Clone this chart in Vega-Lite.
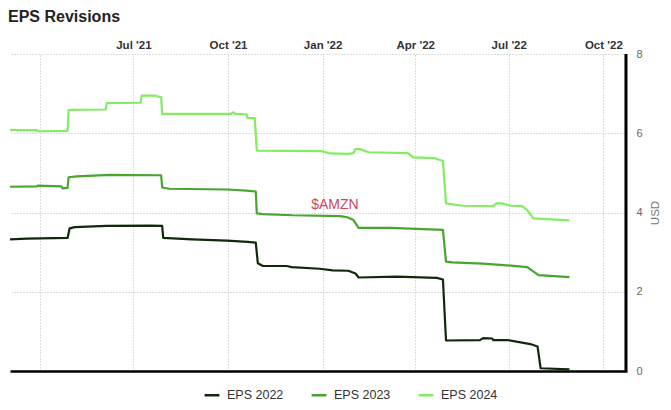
{
  "$schema": "https://vega.github.io/schema/vega-lite/v6.json",
  "width": 617,
  "height": 317,
  "autosize": {"type": "none"},
  "padding": {"left": 10, "top": 54, "right": 44, "bottom": 39},
  "title": {"text": "EPS Revisions", "anchor": "start", "frame": "group", "dx": -2, "offset": 14, "fontSize": 16, "fontWeight": "bold", "color": "#222222", "font": "Liberation Sans"},
  "config": {
    "view": {"stroke": null},
    "font": "Liberation Sans",
    "axis": {"gridColor": "#bbbbbb", "gridDash": [1, 2], "gridWidth": 1, "ticks": false}
  },
  "data": {"values": [
    {"date": "2021-03-03", "eps": 6.08, "series": "EPS 2024"},
    {"date": "2021-03-28", "eps": 6.08, "series": "EPS 2024"},
    {"date": "2021-04-01", "eps": 6.05, "series": "EPS 2024"},
    {"date": "2021-04-28", "eps": 6.06, "series": "EPS 2024"},
    {"date": "2021-04-29", "eps": 6.59, "series": "EPS 2024"},
    {"date": "2021-06-04", "eps": 6.60, "series": "EPS 2024"},
    {"date": "2021-06-05", "eps": 6.76, "series": "EPS 2024"},
    {"date": "2021-07-08", "eps": 6.77, "series": "EPS 2024"},
    {"date": "2021-07-09", "eps": 6.95, "series": "EPS 2024"},
    {"date": "2021-07-22", "eps": 6.95, "series": "EPS 2024"},
    {"date": "2021-07-28", "eps": 6.91, "series": "EPS 2024"},
    {"date": "2021-07-29", "eps": 6.49, "series": "EPS 2024"},
    {"date": "2021-10-04", "eps": 6.49, "series": "EPS 2024"},
    {"date": "2021-10-06", "eps": 6.53, "series": "EPS 2024"},
    {"date": "2021-10-08", "eps": 6.49, "series": "EPS 2024"},
    {"date": "2021-10-19", "eps": 6.48, "series": "EPS 2024"},
    {"date": "2021-10-20", "eps": 6.38, "series": "EPS 2024"},
    {"date": "2021-10-27", "eps": 6.38, "series": "EPS 2024"},
    {"date": "2021-10-29", "eps": 5.56, "series": "EPS 2024"},
    {"date": "2021-12-31", "eps": 5.55, "series": "EPS 2024"},
    {"date": "2022-01-08", "eps": 5.49, "series": "EPS 2024"},
    {"date": "2022-01-25", "eps": 5.48, "series": "EPS 2024"},
    {"date": "2022-01-31", "eps": 5.50, "series": "EPS 2024"},
    {"date": "2022-02-02", "eps": 5.60, "series": "EPS 2024"},
    {"date": "2022-02-06", "eps": 5.60, "series": "EPS 2024"},
    {"date": "2022-02-15", "eps": 5.52, "series": "EPS 2024"},
    {"date": "2022-03-25", "eps": 5.50, "series": "EPS 2024"},
    {"date": "2022-03-30", "eps": 5.39, "series": "EPS 2024"},
    {"date": "2022-04-20", "eps": 5.37, "series": "EPS 2024"},
    {"date": "2022-04-28", "eps": 5.30, "series": "EPS 2024"},
    {"date": "2022-05-01", "eps": 4.23, "series": "EPS 2024"},
    {"date": "2022-05-17", "eps": 4.17, "series": "EPS 2024"},
    {"date": "2022-06-16", "eps": 4.16, "series": "EPS 2024"},
    {"date": "2022-06-19", "eps": 4.23, "series": "EPS 2024"},
    {"date": "2022-06-24", "eps": 4.23, "series": "EPS 2024"},
    {"date": "2022-07-03", "eps": 4.17, "series": "EPS 2024"},
    {"date": "2022-07-14", "eps": 4.16, "series": "EPS 2024"},
    {"date": "2022-07-19", "eps": 4.06, "series": "EPS 2024"},
    {"date": "2022-07-25", "eps": 3.85, "series": "EPS 2024"},
    {"date": "2022-08-29", "eps": 3.80, "series": "EPS 2024"},

    {"date": "2021-03-03", "eps": 4.65, "series": "EPS 2023"},
    {"date": "2021-03-29", "eps": 4.66, "series": "EPS 2023"},
    {"date": "2021-03-30", "eps": 4.68, "series": "EPS 2023"},
    {"date": "2021-04-22", "eps": 4.66, "series": "EPS 2023"},
    {"date": "2021-04-23", "eps": 4.61, "series": "EPS 2023"},
    {"date": "2021-04-28", "eps": 4.62, "series": "EPS 2023"},
    {"date": "2021-04-29", "eps": 4.89, "series": "EPS 2023"},
    {"date": "2021-05-07", "eps": 4.91, "series": "EPS 2023"},
    {"date": "2021-06-08", "eps": 4.95, "series": "EPS 2023"},
    {"date": "2021-07-28", "eps": 4.94, "series": "EPS 2023"},
    {"date": "2021-07-29", "eps": 4.63, "series": "EPS 2023"},
    {"date": "2021-08-05", "eps": 4.60, "series": "EPS 2023"},
    {"date": "2021-09-30", "eps": 4.58, "series": "EPS 2023"},
    {"date": "2021-10-19", "eps": 4.55, "series": "EPS 2023"},
    {"date": "2021-10-28", "eps": 4.53, "series": "EPS 2023"},
    {"date": "2021-10-29", "eps": 3.98, "series": "EPS 2023"},
    {"date": "2021-11-04", "eps": 3.96, "series": "EPS 2023"},
    {"date": "2021-12-03", "eps": 3.93, "series": "EPS 2023"},
    {"date": "2022-01-18", "eps": 3.91, "series": "EPS 2023"},
    {"date": "2022-01-25", "eps": 3.88, "series": "EPS 2023"},
    {"date": "2022-01-31", "eps": 3.81, "series": "EPS 2023"},
    {"date": "2022-02-05", "eps": 3.61, "series": "EPS 2023"},
    {"date": "2022-03-08", "eps": 3.61, "series": "EPS 2023"},
    {"date": "2022-04-28", "eps": 3.56, "series": "EPS 2023"},
    {"date": "2022-05-01", "eps": 2.76, "series": "EPS 2023"},
    {"date": "2022-05-07", "eps": 2.74, "series": "EPS 2023"},
    {"date": "2022-06-06", "eps": 2.71, "series": "EPS 2023"},
    {"date": "2022-07-03", "eps": 2.66, "series": "EPS 2023"},
    {"date": "2022-07-19", "eps": 2.62, "series": "EPS 2023"},
    {"date": "2022-07-30", "eps": 2.42, "series": "EPS 2023"},
    {"date": "2022-08-29", "eps": 2.37, "series": "EPS 2023"},

    {"date": "2021-03-03", "eps": 3.32, "series": "EPS 2022"},
    {"date": "2021-03-19", "eps": 3.34, "series": "EPS 2022"},
    {"date": "2021-04-28", "eps": 3.36, "series": "EPS 2022"},
    {"date": "2021-04-30", "eps": 3.60, "series": "EPS 2022"},
    {"date": "2021-05-05", "eps": 3.63, "series": "EPS 2022"},
    {"date": "2021-06-05", "eps": 3.66, "series": "EPS 2022"},
    {"date": "2021-07-17", "eps": 3.67, "series": "EPS 2022"},
    {"date": "2021-07-29", "eps": 3.66, "series": "EPS 2022"},
    {"date": "2021-07-30", "eps": 3.36, "series": "EPS 2022"},
    {"date": "2021-08-27", "eps": 3.32, "series": "EPS 2022"},
    {"date": "2021-09-30", "eps": 3.29, "series": "EPS 2022"},
    {"date": "2021-10-20", "eps": 3.26, "series": "EPS 2022"},
    {"date": "2021-10-28", "eps": 3.24, "series": "EPS 2022"},
    {"date": "2021-10-30", "eps": 2.72, "series": "EPS 2022"},
    {"date": "2021-11-04", "eps": 2.65, "series": "EPS 2022"},
    {"date": "2021-11-27", "eps": 2.65, "series": "EPS 2022"},
    {"date": "2021-12-02", "eps": 2.62, "series": "EPS 2022"},
    {"date": "2021-12-29", "eps": 2.58, "series": "EPS 2022"},
    {"date": "2022-01-11", "eps": 2.54, "series": "EPS 2022"},
    {"date": "2022-01-26", "eps": 2.53, "series": "EPS 2022"},
    {"date": "2022-02-02", "eps": 2.46, "series": "EPS 2022"},
    {"date": "2022-02-05", "eps": 2.36, "series": "EPS 2022"},
    {"date": "2022-03-14", "eps": 2.38, "series": "EPS 2022"},
    {"date": "2022-04-22", "eps": 2.35, "series": "EPS 2022"},
    {"date": "2022-04-28", "eps": 2.31, "series": "EPS 2022"},
    {"date": "2022-05-01", "eps": 0.77, "series": "EPS 2022"},
    {"date": "2022-06-03", "eps": 0.78, "series": "EPS 2022"},
    {"date": "2022-06-06", "eps": 0.83, "series": "EPS 2022"},
    {"date": "2022-06-15", "eps": 0.82, "series": "EPS 2022"},
    {"date": "2022-06-16", "eps": 0.78, "series": "EPS 2022"},
    {"date": "2022-06-30", "eps": 0.78, "series": "EPS 2022"},
    {"date": "2022-07-22", "eps": 0.68, "series": "EPS 2022"},
    {"date": "2022-07-29", "eps": 0.62, "series": "EPS 2022"},
    {"date": "2022-08-01", "eps": 0.07, "series": "EPS 2022"},
    {"date": "2022-08-29", "eps": 0.04, "series": "EPS 2022"}
  ]},
  "resolve": {"axis": {"x": "independent", "y": "independent"}},
  "layer": [
    {
      "mark": {"type": "line", "strokeWidth": 2.2, "strokeJoin": "round", "clip": true},
      "encoding": {
        "x": {
          "field": "date", "type": "temporal",
          "scale": {"type": "utc", "domain": [{"year": 2021, "month": 3, "date": 3, "utc": true}, {"year": 2022, "month": 10, "date": 24, "utc": true}], "nice": false},
          "axis": {
            "orient": "top", "title": null, "domain": false, "grid": true,
            "values": [
              {"year": 2021, "month": 4, "date": 1, "utc": true},
              {"year": 2021, "month": 7, "date": 1, "utc": true},
              {"year": 2021, "month": 10, "date": 1, "utc": true},
              {"year": 2022, "month": 1, "date": 1, "utc": true},
              {"year": 2022, "month": 4, "date": 1, "utc": true},
              {"year": 2022, "month": 7, "date": 1, "utc": true},
              {"year": 2022, "month": 10, "date": 1, "utc": true}
            ],
            "labelExpr": "datum.value < datetime(2021, 4, 1) ? '' : utcFormat(datum.value, \"%b '%y\")",
            "labelFontSize": 11.5, "labelFontWeight": "bold", "labelColor": "#333333", "labelPadding": 4
          }
        },
        "y": {
          "field": "eps", "type": "quantitative",
          "scale": {"domain": [0, 8], "nice": false},
          "axis": {
            "orient": "right", "title": "USD", "values": [0, 2, 4, 6, 8], "grid": true,
            "domain": false,
            "labelColor": "#666666", "labelFontSize": 11, "labelPadding": 9,
            "titleColor": "#777777", "titleFontSize": 11.5, "titleFontWeight": "normal", "titleAngle": 270, "titlePadding": 18
          }
        },
        "color": {
          "field": "series", "type": "nominal",
          "scale": {"domain": ["EPS 2022", "EPS 2023", "EPS 2024"], "range": ["#10290a", "#47a530", "#84ec62"]},
          "legend": {
            "title": null, "orient": "none", "direction": "horizontal", "legendX": 193, "legendY": 332,
            "symbolType": "stroke", "symbolStrokeWidth": 2.5, "symbolSize": 220, "labelFontSize": 12.5,
            "labelColor": "#333333", "columnPadding": 22, "labelOffset": 6
          }
        }
      }
    },
    {
      "data": {"values": [{"date": "2022-10-23", "lo": 0, "hi": 8}]},
      "mark": {"type": "rule", "color": "#000000", "strokeWidth": 3, "opacity": 1},
      "encoding": {
        "x": {"field": "date", "type": "temporal", "axis": {"orient": "bottom", "title": null, "labels": false, "grid": false, "domain": true, "domainColor": "#000000", "domainWidth": 2.5}},
        "y": {"field": "lo", "type": "quantitative", "axis": null},
        "y2": {"field": "hi"}
      }
    },
    {
      "data": {"values": [{"date": "2022-01-13", "eps": 4.19, "label": "$AMZN"}]},
      "mark": {"type": "text", "color": "#d0465a", "fontSize": 14, "align": "center", "baseline": "middle"},
      "encoding": {
        "x": {"field": "date", "type": "temporal", "axis": null},
        "y": {"field": "eps", "type": "quantitative", "axis": null},
        "text": {"field": "label"}
      }
    }
  ]
}
